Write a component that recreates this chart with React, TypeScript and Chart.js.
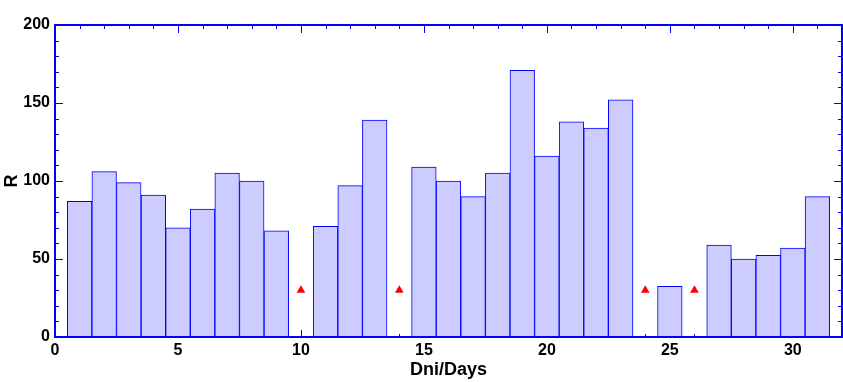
import React, { useEffect, useRef } from "react";
import { Chart, registerables } from "chart.js";

Chart.register(...registerables);

const days = [1, 2, 3, 4, 5, 6, 7, 8, 9, 11, 12, 13, 15, 16, 17, 18, 19, 20, 21, 22, 23, 25, 27, 28, 29, 30, 31];
const values = [87, 106, 99, 91, 70, 82, 105, 100, 68, 71, 97, 139, 109, 100, 90, 105, 171, 116, 138, 134, 152, 32.5, 59, 50, 52.4, 57, 90];
const missingDays = [10, 14, 24, 26];
const missingMarker = [30, 30, 30, 30];
const xTickLabels = ["0", "5", "10", "15", "20", "25", "30"];
const yTickLabels = ["0", "50", "100", "150", "200"];

const BLUE = "#0000ff";

const framePlugin = {
  id: "frameTicks",
  beforeDatasetsDraw(chart: any) {
    const { ctx, chartArea, scales } = chart;
    const x = scales.x;
    ctx.save();
    ctx.strokeStyle = BLUE;
    ctx.lineWidth = 1;
    for (let v = 0; v <= 32; v++) {
      const px = Math.round(x.getPixelForValue(v)) + 0.5;
      const len = v % 5 === 0 ? 7 : 3;
      ctx.beginPath();
      ctx.moveTo(px, chartArea.bottom);
      ctx.lineTo(px, chartArea.bottom - len);
      ctx.stroke();
    }
    ctx.restore();
  },
  afterDatasetsDraw(chart: any) {
    const { ctx, chartArea, scales } = chart;
    const x = scales.x;
    const y = scales.y;
    ctx.save();
    ctx.strokeStyle = BLUE;
    ctx.lineWidth = 1;
    for (let v = 0; v <= 32; v++) {
      const px = Math.round(x.getPixelForValue(v)) + 0.5;
      const len = v % 5 === 0 ? 8 : 4;
      ctx.beginPath();
      ctx.moveTo(px, chartArea.top);
      ctx.lineTo(px, chartArea.top + len);
      ctx.stroke();
    }
    for (let v = 0; v <= 200; v += 10) {
      const py = Math.round(y.getPixelForValue(v)) + 0.5;
      const len = v % 50 === 0 ? 8 : 4;
      ctx.beginPath();
      ctx.moveTo(chartArea.left, py);
      ctx.lineTo(chartArea.left + len, py);
      ctx.moveTo(chartArea.right, py);
      ctx.lineTo(chartArea.right - len, py);
      ctx.stroke();
    }
    ctx.lineWidth = 2;
    ctx.strokeRect(chartArea.left, chartArea.top, chartArea.right - chartArea.left, chartArea.bottom - chartArea.top);
    ctx.restore();
  },
};

export default function App() {
  const ref = useRef<HTMLCanvasElement | null>(null);
  useEffect(() => {
    if (!ref.current) return;
    const tickFont = { family: "'Liberation Sans', Arial, sans-serif", size: 16, weight: "bold" as const };
    const titleFont = { family: "'Liberation Sans', Arial, sans-serif", size: 18, weight: "bold" as const };
    const chart = new Chart(ref.current, {
      type: "bar",
      data: {
        datasets: [
          {
            type: "bar",
            data: days.map((d, i) => ({ x: d, y: values[i] })),
            backgroundColor: "#ccccff",
            borderColor: BLUE,
            borderWidth: 1,
            borderSkipped: false,
            barPercentage: 1,
            categoryPercentage: 1,
            order: 2,
          } as any,
          {
            type: "scatter",
            data: missingDays.map((d, i) => ({ x: d, y: missingMarker[i] })),
            pointStyle: "triangle",
            radius: 5,
            backgroundColor: "#ff0000",
            borderColor: "#ff0000",
            borderWidth: 0,
            order: 1,
          } as any,
        ],
      },
      options: {
        animation: false,
        responsive: false,
        maintainAspectRatio: false,
        layout: { autoPadding: false, padding: { top: 25, right: 1, left: 0, bottom: 0 } },
        plugins: { legend: { display: false }, tooltip: { enabled: false } },
        scales: {
          x: {
            type: "linear",
            min: 0,
            max: 32,
            offset: false,
            grid: { display: false, drawTicks: false },
            border: { display: false },
            ticks: {
              stepSize: 5,
              includeBounds: false,
              padding: 4,
              color: "#000",
              font: tickFont,
              maxRotation: 0,
              callback: (v: any) => {
                const s = String(v);
                return xTickLabels.includes(s) ? s : "";
              },
            },
            title: { display: true, text: "Dni/Days", color: "#000", font: titleFont, padding: { top: 0, bottom: 1 } },
            afterFit: (s: any) => {
              s.height = 45;
              s.paddingLeft = 0;
              s.paddingRight = 0;
            },
          },
          y: {
            type: "linear",
            min: 0,
            max: 200,
            grid: { display: false, drawTicks: false },
            border: { display: false },
            ticks: {
              stepSize: 50,
              padding: 5,
              color: "#000",
              font: tickFont,
              callback: (v: any) => {
                const s = String(v);
                return yTickLabels.includes(s) ? s : "";
              },
            },
            title: { display: true, text: "R", color: "#000", font: titleFont, padding: { top: 1, bottom: 0 } },
            afterFit: (s: any) => {
              s.width = 55;
              s.paddingTop = 0;
              s.paddingBottom = 0;
            },
          },
        },
      } as any,
      plugins: [framePlugin],
    });
    return () => chart.destroy();
  }, []);
  return (
    <div style={{ position: "fixed", left: 0, top: 0, width: 843, height: 382, background: "#fff" }}>
      <canvas ref={ref} width={843} height={382} style={{ display: "block" }} />
    </div>
  );
}
